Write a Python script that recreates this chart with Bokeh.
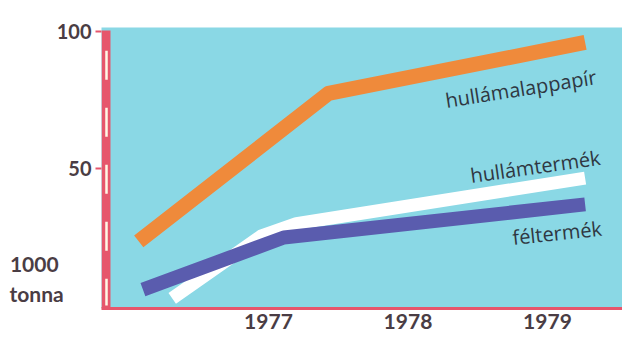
from bokeh.plotting import figure
from bokeh.models import Range1d, FixedTicker, Label
from bokeh.embed import file_html
from bokeh.resources import INLINE

# ---- data ----
years_alap = [1976.07, 1977.43, 1979.27]
hullamalappapir = [23.4, 77.4, 96.0]

years_term = [1976.31, 1976.95, 1977.2, 1979.27]
hullamtermek = [2.6, 25.4, 29.9, 46.5]

years_felt = [1976.10, 1977.11, 1979.27]
feltermek = [5.8, 24.8, 36.9]

x_ticks = [1977, 1978, 1979]
y_ticks = [50, 100]
unit_label = "1000\u00a0\ntonna\n \n "

# ---- styling ----
CYAN = "#8ad8e5"
RED = "#e6566c"
ORANGE = "#ef8a3b"
BLUE = "#5a5cae"
WHITE = "#ffffff"
NUM_COL = "#4a3d44"
LAB_COL = "#2f3742"
FONT = "Open Sans"
NFONT = "Lato"

PX_YEAR = 139.5
X0, X1 = 1975.803, 1979.538
Y0, Y1 = -1.09, 101.46

p = figure(width=622, height=337, output_backend="svg", toolbar_location=None,
           x_range=Range1d(X0, X1), y_range=Range1d(Y0, Y1),
           min_border_left=101, min_border_right=0, min_border_top=27,
           min_border_bottom=29)
p.background_fill_color = CYAN
p.border_fill_color = "white"
p.outline_line_color = None
p.grid.visible = False

# y axis
ya = p.yaxis[0]
ya.ticker = FixedTicker(ticks=y_ticks)
ya.axis_line_color = None
ya.major_tick_out = 6
ya.major_tick_in = 0
ya.major_tick_line_color = RED
ya.major_tick_line_width = 2
ya.minor_tick_line_color = None
ya.major_label_standoff = 4
ya.major_label_text_font = NFONT
ya.major_label_text_font_size = "20px"
ya.major_label_text_font_style = "bold"
ya.major_label_text_color = NUM_COL
ya.axis_label = unit_label
ya.axis_label_orientation = "horizontal"
ya.axis_label_align = "start"
ya.axis_label_standoff = -10
ya.axis_label_text_font = NFONT
ya.axis_label_text_font_size = "21px"
ya.axis_label_text_font_style = "bold"
ya.axis_label_text_color = NUM_COL

# x axis
xa = p.xaxis[0]
xa.ticker = FixedTicker(ticks=x_ticks)
xa.axis_line_color = RED
xa.axis_line_width = 3
xa.major_tick_out = 0
xa.major_tick_in = 0
xa.minor_tick_line_color = None
xa.major_label_standoff = 5
xa.major_label_text_font = NFONT
xa.major_label_text_font_size = "21px"
xa.major_label_text_font_style = "bold"
xa.major_label_text_color = NUM_COL

# red vertical band with white dashes (left axis decoration)
p.quad(left=[X0], right=[X0 + 9 / PX_YEAR], bottom=[Y0], top=[100.4],
       fill_color=RED, line_color=None)
p.line([X0 + 5 / PX_YEAR] * 2, [93.0, 0.0], line_color="#fff7e6",
       line_width=2.5, line_dash="29 28")

# series
p.line(years_term, hullamtermek, line_color=WHITE, line_width=13,
       line_join="round", line_cap="butt")
p.line(years_felt, feltermek, line_color=BLUE, line_width=14,
       line_join="round", line_cap="butt")
p.line(years_alap, hullamalappapir, line_color=ORANGE, line_width=15,
       line_join="round", line_cap="butt")

# series labels
for txt, x, y, ang in [("hullámalappapír", 1978.269, 74.8, 9),
                       ("hullámtermék", 1978.448, 47.4, 8),
                       ("féltermék", 1978.749, 24.8, 6)]:
    p.add_layout(Label(x=x, y=y, text=txt, angle=ang, angle_units="deg",
                       text_font=FONT, text_font_size="20px",
                       text_color=LAB_COL, text_align="left",
                       text_baseline="alphabetic"))

open("out.html", "w").write(file_html(p, INLINE))
